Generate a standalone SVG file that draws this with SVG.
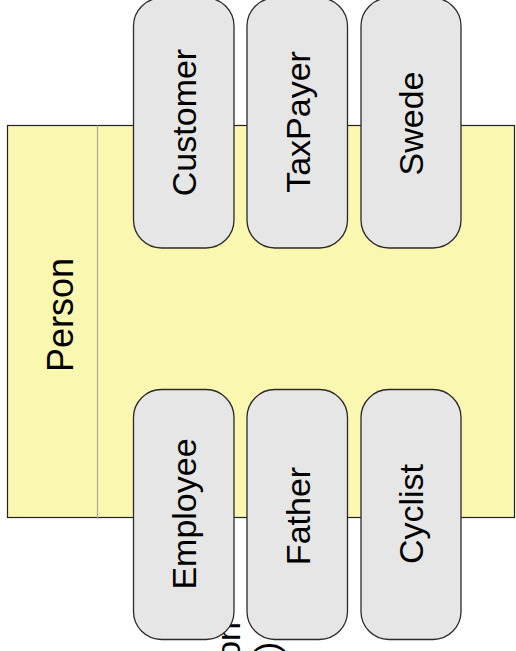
<svg xmlns="http://www.w3.org/2000/svg" width="516" height="651" viewBox="0 0 516 651">
  <style>
    .lbl { font-family: "Liberation Sans", Arial, sans-serif; font-size: 34px; fill: #000; text-anchor: middle; }
    .big { font-size: 36px; }
    .frag { font-family: "Liberation Sans", Arial, sans-serif; font-size: 34px; fill: #000; text-anchor: end; }
    .role { fill: #e6e6e6; stroke: #2a2a2a; stroke-width: 1.3; }
  </style>
  <rect width="516" height="651" fill="#fff"/>

  <!-- Person container -->
  <g id="person">
    <rect x="7.5" y="125.5" width="507" height="392" fill="#faf7b0" stroke="#222" stroke-width="1.2"/>
    <line x1="97.5" y1="125.5" x2="97.5" y2="519" stroke="#aaa9a0" stroke-width="1.2"/>
    <text class="lbl big" transform="translate(73,315) rotate(-90)">Person</text>
  </g>

  <!-- trailing caption, partly behind the role boxes -->
  <g id="caption">
    <text class="frag" transform="translate(240,622) rotate(-90)">on</text>
    <text class="frag" transform="translate(278,642) rotate(-90)">e)</text>
  </g>

  <g id="connectors"></g>

  <!-- role boxes, top row -->
  <g id="customer">
    <rect class="role" x="133.5" y="-2" width="100.5" height="250" rx="28" ry="28"/>
    <text class="lbl" transform="translate(196,122.5) rotate(-90)">Customer</text>
  </g>
  <g id="taxpayer">
    <rect class="role" x="247" y="-2" width="100.5" height="250" rx="28" ry="28"/>
    <text class="lbl" transform="translate(310,122) rotate(-90)">TaxPayer</text>
  </g>
  <g id="swede">
    <rect class="role" x="361" y="-2" width="100" height="250" rx="28" ry="28"/>
    <text class="lbl" transform="translate(423,123.5) rotate(-90)">Swede</text>
  </g>

  <!-- role boxes, bottom row -->
  <g id="employee">
    <rect class="role" x="133.5" y="389.5" width="100.5" height="250" rx="28" ry="28"/>
    <text class="lbl" transform="translate(196,514) rotate(-90)">Employee</text>
  </g>
  <g id="father">
    <rect class="role" x="247" y="389.5" width="100.5" height="250" rx="28" ry="28"/>
    <text class="lbl" transform="translate(310,516) rotate(-90)">Father</text>
  </g>
  <g id="cyclist">
    <rect class="role" x="361" y="389.5" width="100" height="250" rx="28" ry="28"/>
    <text class="lbl" transform="translate(423,514) rotate(-90)">Cyclist</text>
  </g>
</svg>
